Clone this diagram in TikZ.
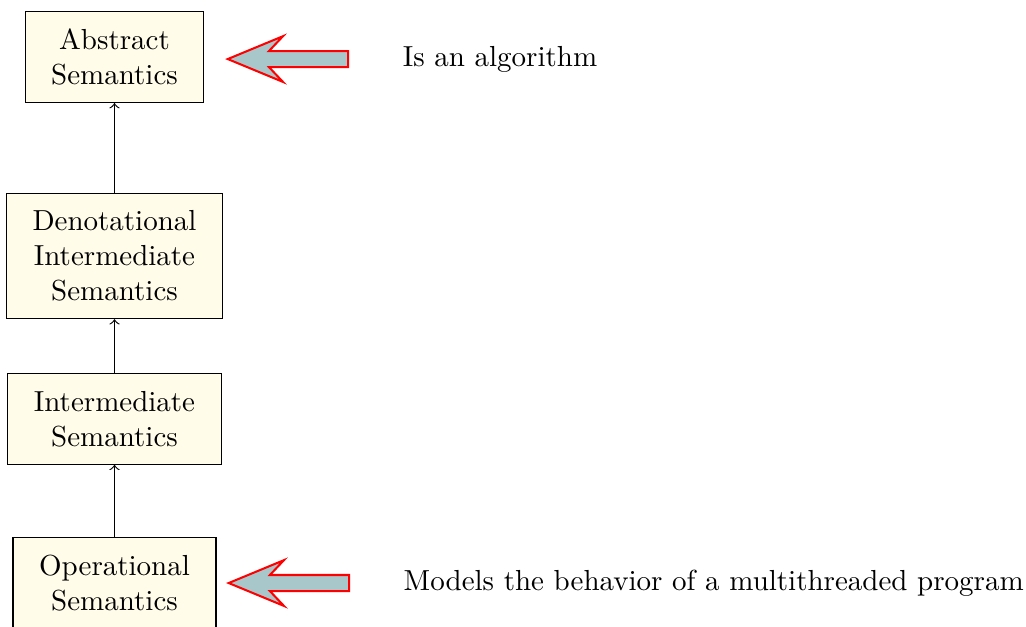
\documentclass[tikz,border=0pt]{standalone}
\usepackage{xcolor}
\usetikzlibrary{positioning, shapes, arrows}

\definecolor{boxfill}{RGB}{255,252,234}
\definecolor{arrowfill}{RGB}{167,199,203}

\tikzset{
semantics/.style={draw, fill=boxfill, align=center, inner xsep=9pt, inner ysep=6pt},
bigarrow/.style={single arrow, shape border rotate=180, draw=red, fill=arrowfill,
  line width=0.7pt, inner sep=0pt, text height=0.17cm, text depth=0pt,
  minimum height=1.46cm, single arrow head extend=0.18cm,
  single arrow tip angle=45, single arrow head indent=0.17cm}
}

\begin{document}
\begin{tikzpicture}
\useasboundingbox (0,0) rectangle (12.436,-7.588);
\node[semantics] (abs) at (1.388,-0.691) {Abstract\\Semantics};
\node[semantics] (den) at (1.388,-3.103) {Denotational\\Intermediate\\Semantics};
\node[semantics] (inter) at (1.388,-5.079) {Intermediate\\Semantics};
\node[semantics] (op) at (1.388,-7.067) {Operational\\Semantics};
\draw[->] (op) -- (inter);
\draw[->] (inter) -- (den);
\draw[->] (den) -- (abs);
% pointers
\node[bigarrow, anchor=tip] (arrabs) at ([xshift=0.25cm, yshift=-0.025cm]abs.east) {};
\node[bigarrow, anchor=tip] (arrop) at ([xshift=0.115cm]op.east) {};
\node[right=0.525cm of arrabs] (algo) {Is an algorithm};
\node[right=0.525cm of arrop] (model) {Models the behavior of a multithreaded program};
\end{tikzpicture}
\end{document}
